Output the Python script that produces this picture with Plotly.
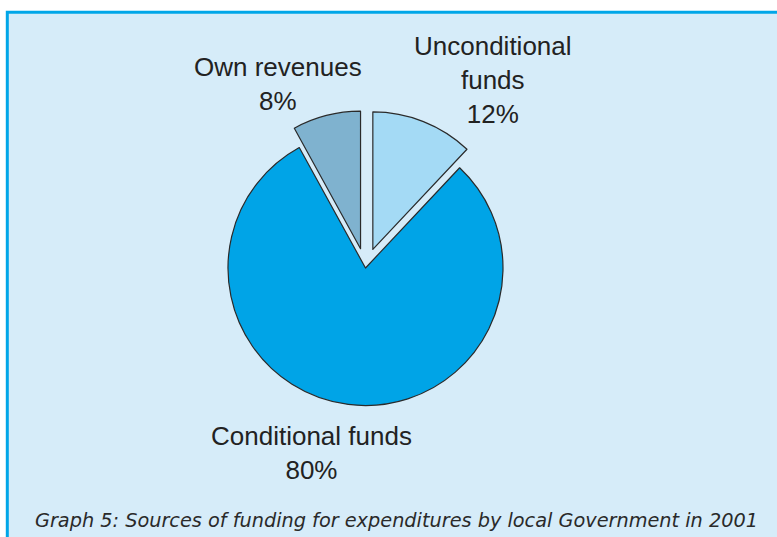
import plotly.graph_objects as go

W, H = 777, 537

# Funding sources (share of expenditures, %)
categories = ["Unconditional funds", "Conditional funds", "Own revenues"]
display_labels = ["Unconditional<br>funds", "Conditional funds", "Own revenues"]
shares = [12, 80, 8]
slice_colors = ["#a4daf5", "#00a4e7", "#7fb2cf"]
slice_pull = [0.145, 0, 0.145]

caption = "Graph 5: Sources of funding for expenditures by local Government in 2001"


def px(x):
    return x / W


def py(y):
    return 1 - y / H


# pie placement (pixels): centre and radius of the unpulled disc
cx, cy, r = 365.5, 268.0, 137.5
half = r * (1 + max(slice_pull))

fig = go.Figure()
fig.add_trace(go.Pie(
    labels=categories,
    values=shares,
    sort=False,
    direction="clockwise",
    rotation=0,
    pull=slice_pull,
    marker=dict(colors=slice_colors, line=dict(color="#2a2a2a", width=1.2)),
    textinfo="none",
    hoverinfo="label+percent",
    showlegend=False,
    domain=dict(x=[px(cx - half), px(cx + half)], y=[py(cy + half), py(cy - half)]),
))

# outside labels: name and percentage
label_pos = {
    "Unconditional funds": (493.5, 80),
    "Conditional funds": (311.5, 453),
    "Own revenues": (278, 84),
}
for cat, txt, val in zip(categories, display_labels, shares):
    x, y = label_pos[cat]
    fig.add_annotation(
        x=px(x), y=py(y), xref="paper", yref="paper",
        text=f"{txt}<br>{val}%", showarrow=False,
        xanchor="center", yanchor="middle", align="center",
        font=dict(family="Liberation Sans, Arial, sans-serif", size=26, color="#222222"),
    )

fig.add_annotation(
    x=px(396.5), y=py(520.5), xref="paper", yref="paper",
    text=f"<i>{caption}</i>", showarrow=False,
    xanchor="center", yanchor="middle",
    font=dict(family="DejaVu Sans, Verdana, sans-serif", size=19.3, color="#2a2a2a"),
)

# framed panel behind the chart
fig.add_shape(
    type="rect", xref="paper", yref="paper",
    x0=px(7.3), x1=px(W + 10), y0=py(H + 10), y1=py(12.3),
    fillcolor="#d6ecf9", line=dict(color="#00a6e8", width=3), layer="below",
)

fig.update_layout(
    width=W, height=H,
    margin=dict(l=0, r=0, t=0, b=0),
    paper_bgcolor="#ffffff",
    plot_bgcolor="rgba(0,0,0,0)",
)

fig.write_html("out.html")
